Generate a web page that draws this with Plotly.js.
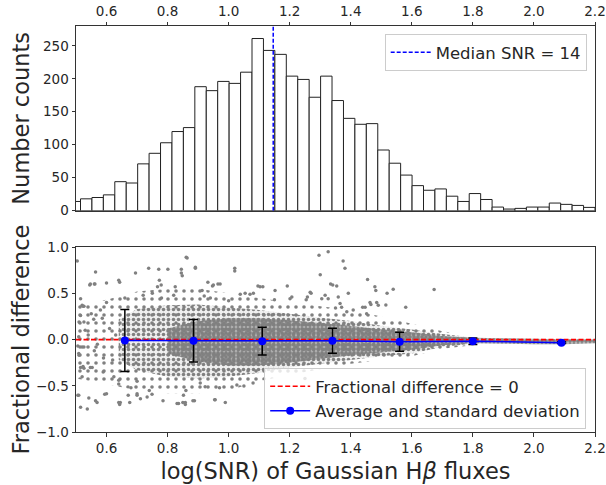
<!DOCTYPE html>
<html>
<head>
<meta charset="utf-8">
<script src="https://cdn.plot.ly/plotly-3.0.1.min.js"></script>
<style>html,body{margin:0;padding:0;background:#fff;}#chart{width:606px;height:485px;}</style>
</head>
<body>
<div id="chart"></div>
<script>
// ---------- data ----------
const histBinStart = 0.4773;
const histBinWidth = 0.03745;
const histCounts = [14,18,20,24,44,42,71,87,103,120,126,188,182,196,193,210,261,243,237,204,199,172,204,167,140,131,132,92,72,54,38,31,33,22,14,26,17,5.5,2.5,3.5,5.5,5.5,11.6,9.6,8,5];
const medianLogSNR = 1.146;   // log10(14)
const medianLabel = "Median SNR = 14";

const avgX   = [0.66, 0.885, 1.11, 1.34, 1.56, 1.80, 2.09];
const avgY   = [-0.010, -0.013, -0.017, -0.013, -0.024, -0.018, -0.033];
const avgStd = [0.335, 0.230, 0.150, 0.135, 0.103, 0.035, 0.010];
const zeroLevel = 0;

// envelopes of the scatter cloud
const haloX  = [0.50, 0.60, 0.70, 0.80, 0.90, 1.00, 1.10, 1.20, 1.30, 1.40, 1.50, 1.60, 1.70, 1.80];
const haloUp = [0.38, 0.43, 0.52, 0.55, 0.55, 0.50, 0.45, 0.40, 0.36, 0.32, 0.25, 0.17, 0.09, 0.04];
const haloLo = [-0.42,-0.48,-0.55,-0.58,-0.58,-0.55,-0.45,-0.38,-0.32,-0.26,-0.22,-0.18,-0.10,-0.06];
const midX   = [0.64, 0.70, 0.80, 0.90, 1.00, 1.10, 1.20, 1.30, 1.40, 1.50, 1.60, 1.70, 1.78];
const midUp  = [0.22, 0.33, 0.37, 0.38, 0.35, 0.32, 0.28, 0.24, 0.20, 0.15, 0.11, 0.06, 0.03];
const midLo  = [-0.22,-0.33,-0.40,-0.42,-0.40,-0.36,-0.30,-0.26,-0.22,-0.18,-0.15,-0.08,-0.05];
const coreX  = [0.80, 0.90, 1.00, 1.10, 1.20, 1.30, 1.40, 1.50, 1.60, 1.70, 1.80, 1.90, 2.00, 2.10, 2.20];
const coreUp = [0.12, 0.20, 0.23, 0.23, 0.21, 0.18, 0.15, 0.11, 0.08, 0.04, 0.02, 0.015, 0.01, 0.005, 0.005];
const coreLo = [-0.15,-0.24,-0.28,-0.28,-0.25,-0.21,-0.17,-0.14,-0.11,-0.06,-0.04,-0.045,-0.05,-0.05,-0.04];

// individual scattered points
const outX = [0.504,0.564,0.547,0.560,0.600,0.643,0.861,0.738,0.771,0.801,0.695,0.845,0.845,0.848,0.891,1.020,1.020,0.932,0.950,0.965,0.773,0.779,0.767,0.825,0.913,
  0.520,0.526,0.510,0.526,0.558,0.586,0.506,0.526,0.510,0.515,0.526,0.553,0.589,0.509,0.515,0.537,0.542,0.569,0.594,0.645,0.643,0.676,0.700,0.711,0.749,0.836,0.858,0.858,0.883,0.956,0.989,0.624,0.640,
  0.545,0.562,0.640,1.096,1.192,1.201,0.515,0.523,0.515,0.509,0.520,0.509,0.523,0.547,0.506,0.564,0.600,0.640,0.671,0.700,0.733,0.785,0.831,0.850,0.852,0.888,1.027,
  1.296,1.326,1.375,1.381,1.300,1.334,1.354,1.455,1.479,1.482,1.539,1.519,1.463,1.485,1.447,1.452,1.270,1.207,1.112,1.152,1.305,1.326,1.359,1.365,1.370,1.350,1.387,1.054,1.081,
  1.673,1.580,1.267,1.258,1.254,1.316,1.341,1.392,1.439,1.466,1.490,1.515,1.408,
  0.864,0.891,0.947,0.972,1.038,1.070,1.103,0.923,0.907,0.954,
  0.53,0.57,0.61,0.55,0.59,0.63,0.52,0.58,0.62,0.56,0.60,0.64,0.54,0.66,0.68,0.72,0.75,0.70,0.74,0.78,0.82,0.86,0.92,0.97,1.05,1.15,1.25,0.94,1.00,1.08];
const outY = [0.85,0.73,0.60,0.60,0.61,0.62,0.89,0.77,0.76,0.76,0.72,0.76,0.72,0.69,0.77,0.77,0.74,0.62,0.59,0.60,0.64,0.59,0.57,0.57,0.53,
  0.37,0.36,0.19,0.19,0.22,0.23,-0.07,-0.08,-0.17,-0.30,-0.31,-0.30,-0.35,-0.60,-0.73,-0.75,-0.63,-0.68,-0.59,-0.68,-0.70,-0.68,-0.60,-0.64,-0.59,-0.69,-0.68,-0.70,-0.66,-0.65,-0.68,-0.40,-0.44,
  0.59,0.60,0.64,0.58,0.58,0.44,0.44,0.36,0.26,0.03,-0.08,-0.15,-0.29,-0.30,-0.60,-0.66,-0.585,-0.68,-0.60,-0.585,-0.62,-0.66,-0.69,-0.68,-0.60,-0.66,-0.49,
  0.91,0.95,0.85,0.77,0.70,0.60,0.58,0.65,0.57,0.53,0.545,0.50,0.40,0.40,0.35,0.28,0.50,0.46,0.57,0.53,0.44,0.44,0.46,0.39,0.35,0.34,0.30,0.50,0.50,
  0.54,0.35,0.51,0.46,0.43,0.48,0.59,0.50,0.35,0.38,0.37,0.375,0.32,
  0.88,0.78,0.58,0.60,0.49,0.49,0.57,-0.51,-0.47,-0.65,
  0.10,-0.05,0.12,0.28,-0.20,0.05,-0.40,0.32,-0.22,-0.12,0.40,-0.48,0.05,0.45,-0.52,0.48,0.50,-0.45,-0.55,0.45,0.48,-0.55,0.47,-0.52,-0.50,0.43,-0.42,0.45,0.42,-0.47];

const xTicks = [0.6, 0.8, 1.0, 1.2, 1.4, 1.6, 1.8, 2.0, 2.2];
const histTicks = [0, 50, 100, 150, 200, 250];
const fracTicks = [-1.0, -0.5, 0.0, 0.5, 1.0];
const xRange = [0.5, 2.2];
const histRange = [0, 280];
const fracRange = [-1, 1];

// ---------- build ----------
const binCenters = histCounts.map((_, i) => histBinStart + (i + 0.5) * histBinWidth);
function band(xs, up, lo) {
  return { x: xs.concat(xs.slice().reverse()), y: up.concat(lo.slice().reverse()) };
}
const FONT = 'DejaVu Sans, Liberation Sans, sans-serif';
const TXT = '#262626';
const GRAY = '#808080';

const bH = band(haloX, haloUp, haloLo), bM = band(midX, midUp, midLo), bC = band(coreX, coreUp, coreLo);
function bandTrace(b, size, solidity, bg) {
  return { type: 'scatter', mode: 'none', x: b.x, y: b.y, fill: 'toself',
    fillcolor: 'rgba(0,0,0,0)',
    fillpattern: { shape: '.', size: size, solidity: solidity, fgcolor: GRAY, bgcolor: bg, fillmode: 'replace' },
    hoverinfo: 'skip', showlegend: false, xaxis: 'x', yaxis: 'y' };
}

const traces = [
  { type: 'bar', x: binCenters, y: histCounts, width: histBinWidth,
    marker: { color: '#ffffff', line: { color: '#222', width: 1 } },
    xaxis: 'x2', yaxis: 'y2', showlegend: false, hoverinfo: 'x+y' },
  { type: 'scatter', mode: 'lines', x: [medianLogSNR, medianLogSNR], y: histRange,
    line: { color: '#0000ff', width: 1.5, dash: '4px,2px' }, name: medianLabel,
    xaxis: 'x2', yaxis: 'y2', legend: 'legend2' },
  bandTrace(bH, 8, 0.16, 'rgba(0,0,0,0)'),
  bandTrace(bM, 5, 0.4, 'rgba(128,128,128,0.12)'),
  bandTrace(bC, 4, 0.7, 'rgba(128,128,128,0.45)'),
  { type: 'scatter', mode: 'markers', x: outX, y: outY,
    marker: { color: GRAY, size: 3.5 }, showlegend: false, xaxis: 'x', yaxis: 'y' },
  { type: 'scatter', mode: 'lines', x: xRange, y: [zeroLevel, zeroLevel],
    line: { color: '#ff0000', width: 1.6, dash: '5px,2.5px' }, name: 'Fractional difference = 0',
    xaxis: 'x', yaxis: 'y', legend: 'legend' },
  { type: 'scatter', mode: 'lines+markers', x: avgX, y: avgY,
    error_y: { type: 'data', array: avgStd, visible: true, color: '#000', thickness: 1.5, width: 4.5 },
    line: { color: '#0000ff', width: 1.5 }, marker: { color: '#0000ff', size: 8 },
    name: 'Average and standard deviation', xaxis: 'x', yaxis: 'y', legend: 'legend' }
];

const axisCommon = {
  showline: true, linecolor: '#333', linewidth: 1, mirror: true,
  ticks: 'outside', ticklen: 3.5, tickwidth: 1, tickcolor: '#333',
  showgrid: false, zeroline: false,
  tickfont: { family: FONT, size: 13.5, color: TXT }
};

const layout = {
  width: 606, height: 485,
  margin: { l: 75.5, r: 10.5, t: 0, b: 0 },
  paper_bgcolor: '#fff', plot_bgcolor: '#fff',
  font: { family: FONT, color: TXT },
  showlegend: true, bargap: 0,
  xaxis: Object.assign({}, axisCommon, {
    range: xRange, tickvals: xTicks, tickformat: '.1f', anchor: 'y', domain: [0, 1],
    title: { text: 'log(SNR) of Gaussian H<i>β</i> fluxes', font: { family: FONT, size: 22.5, color: TXT }, standoff: 8 }
  }),
  yaxis: Object.assign({}, axisCommon, {
    range: fracRange, tickvals: fracTicks, tickformat: '.1f', anchor: 'x',
    domain: [1 - 432.2 / 485, 1 - 247 / 485],
    title: { text: 'Fractional difference', font: { family: FONT, size: 22.5, color: TXT }, standoff: 0 }
  }),
  xaxis2: Object.assign({}, axisCommon, {
    range: xRange, tickvals: xTicks, tickformat: '.1f', anchor: 'y2', side: 'top', matches: 'x'
  }),
  yaxis2: Object.assign({}, axisCommon, {
    range: histRange, tickvals: histTicks, anchor: 'x2',
    domain: [1 - 210.7 / 485, 1 - 26 / 485],
    title: { text: 'Number counts', font: { family: FONT, size: 22.5, color: TXT }, standoff: 7 }
  }),
  legend: {
    x: 0.983, y: 1 - 368 / 485, xanchor: 'right', yanchor: 'top',
    bgcolor: 'rgba(255,255,255,0.8)', bordercolor: '#cccccc', borderwidth: 1,
    font: { family: FONT, size: 16.5, color: TXT }, tracegroupgap: 0, itemwidth: 40
  },
  legend2: {
    x: 0.984, y: 1 - 34 / 485, xanchor: 'right', yanchor: 'top',
    bgcolor: 'rgba(255,255,255,0.8)', bordercolor: '#cccccc', borderwidth: 1,
    font: { family: FONT, size: 16.5, color: TXT }, itemwidth: 40
  }
};

Plotly.newPlot('chart', traces, layout, { displayModeBar: false, staticPlot: true });
</script>
</body>
</html>
